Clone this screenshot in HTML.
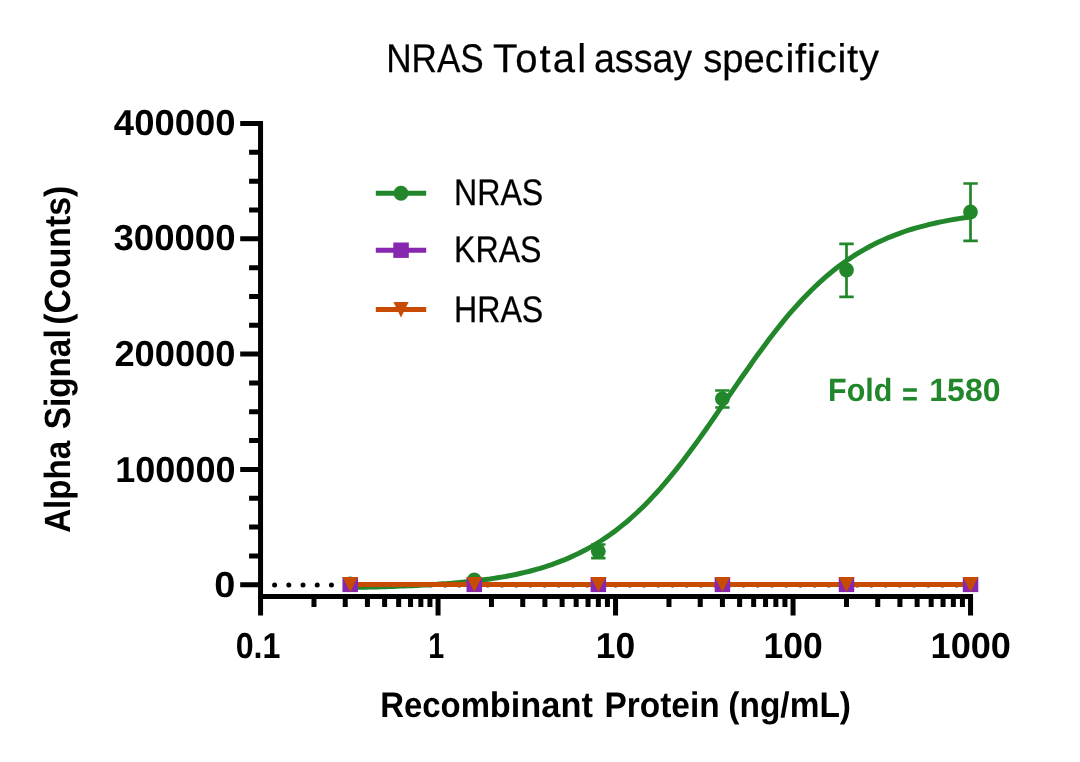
<!DOCTYPE html>
<html lang="en">
<head>
<meta charset="utf-8">
<title>NRAS Total assay specificity</title>
<style>
html,body{margin:0;padding:0;background:#fff;}
body{width:1080px;height:762px;overflow:hidden;}
svg{display:block;will-change:transform;}
text{font-family:"Liberation Sans",sans-serif;text-rendering:geometricPrecision;}
</style>
</head>
<body>
<svg width="1080" height="762" viewBox="0 0 1080 762" role="img" aria-label="NRAS Total assay specificity: Alpha Signal (Counts) versus Recombinant Protein (ng/mL) for NRAS, KRAS and HRAS">
<rect width="1080" height="762" fill="#fff"/>
<line x1="274.6" y1="584.95" x2="972" y2="584.95" stroke="#000" stroke-width="5.0" stroke-linecap="round" stroke-dasharray="0 14.21"/>
<!-- NRAS fitted curve, error bars and points -->
<polyline fill="none" stroke="#22872b" stroke-width="5.0" stroke-linejoin="round" stroke-linecap="butt" points="350.2,587.5 354.1,587.4 358.0,587.3 361.8,587.3 365.7,587.2 369.6,587.1 373.5,587.0 377.4,586.9 381.2,586.8 385.1,586.7 389.0,586.5 392.9,586.4 396.7,586.3 400.6,586.1 404.5,586.0 408.4,585.8 412.2,585.7 416.1,585.5 420.0,585.3 423.9,585.1 427.8,584.9 431.6,584.6 435.5,584.4 439.4,584.1 443.3,583.8 447.1,583.6 451.0,583.3 454.9,582.9 458.8,582.6 462.6,582.2 466.5,581.8 470.4,581.4 474.3,581.0 478.2,580.5 482.0,580.0 485.9,579.5 489.8,579.0 493.7,578.4 497.5,577.8 501.4,577.1 505.3,576.5 509.2,575.7 513.1,575.0 516.9,574.2 520.8,573.3 524.7,572.4 528.6,571.5 532.4,570.5 536.3,569.4 540.2,568.3 544.1,567.1 547.9,565.9 551.8,564.6 555.7,563.2 559.6,561.7 563.5,560.2 567.3,558.6 571.2,556.9 575.1,555.1 579.0,553.3 582.8,551.3 586.7,549.3 590.6,547.1 594.5,544.9 598.3,542.5 602.2,540.0 606.1,537.4 610.0,534.7 613.9,531.9 617.7,529.0 621.6,525.9 625.5,522.8 629.4,519.5 633.2,516.0 637.1,512.5 641.0,508.8 644.9,505.0 648.8,501.0 652.6,496.9 656.5,492.7 660.4,488.4 664.3,483.9 668.1,479.3 672.0,474.6 675.9,469.8 679.8,464.9 683.6,459.9 687.5,454.8 691.4,449.6 695.3,444.3 699.2,438.9 703.0,433.5 706.9,428.0 710.8,422.4 714.7,416.8 718.5,411.2 722.4,405.5 726.3,399.9 730.2,394.2 734.0,388.6 737.9,382.9 741.8,377.3 745.7,371.7 749.6,366.2 753.4,360.7 757.3,355.3 761.2,350.0 765.1,344.7 768.9,339.6 772.8,334.5 776.7,329.5 780.6,324.6 784.4,319.9 788.3,315.2 792.2,310.7 796.1,306.3 800.0,302.0 803.8,297.9 807.7,293.9 811.6,290.0 815.5,286.2 819.3,282.6 823.2,279.1 827.1,275.7 831.0,272.5 834.9,269.3 838.7,266.3 842.6,263.5 846.5,260.7 850.4,258.1 854.2,255.5 858.1,253.1 862.0,250.8 865.9,248.6 869.7,246.5 873.6,244.5 877.5,242.6 881.4,240.7 885.3,239.0 889.1,237.3 893.0,235.8 896.9,234.3 900.8,232.9 904.6,231.5 908.5,230.2 912.4,229.0 916.3,227.9 920.1,226.8 924.0,225.8 927.9,224.8 931.8,223.9 935.7,223.0 939.5,222.1 943.4,221.4 947.3,220.6 951.2,219.9 955.0,219.2 958.9,218.6 962.8,218.0 966.7,217.5 970.5,216.9"/>
<g stroke="#22872b" stroke-width="2.7" fill="none">
<path d="M598.3 544.5V558.2M591.1 544.5H605.5M591.1 558.2H605.5"/>
<path d="M722.4 390.5V407.5M715.2 390.5H729.6M715.2 407.5H729.6"/>
<path d="M846.5 243.8V296.8M839.3 243.8H853.7M839.3 296.8H853.7"/>
<path d="M970.5 183.5V240.8M963.3 183.5H977.8M963.3 240.8H977.8"/>
</g>
<g fill="#22872b">
<circle cx="350.2" cy="584.0" r="7.4"/><circle cx="474.3" cy="580.0" r="7.4"/><circle cx="598.3" cy="551.2" r="7.4"/><circle cx="722.4" cy="398.8" r="7.4"/><circle cx="846.5" cy="270.0" r="7.4"/><circle cx="970.5" cy="212.0" r="7.4"/>
</g>
<!-- KRAS (squares) and HRAS (triangles) series -->
<line x1="350.2" y1="584.55" x2="970.5" y2="584.55" stroke="#8726af" stroke-width="4.8"/>
<line x1="350.2" y1="584.55" x2="970.5" y2="584.55" stroke="#c84b02" stroke-width="4.9"/>
<g fill="#8726af">
<rect x="342.46" y="577.00" width="15.5" height="15.1"/><rect x="466.53" y="577.00" width="15.5" height="15.1"/><rect x="590.60" y="577.00" width="15.5" height="15.1"/><rect x="714.67" y="577.00" width="15.5" height="15.1"/><rect x="838.73" y="577.00" width="15.5" height="15.1"/><rect x="962.80" y="577.00" width="15.5" height="15.1"/>
</g>
<g fill="#c84b02">
<path d="M342.46 577.00H357.96L350.21 592.10Z"/><path d="M466.53 577.00H482.03L474.28 592.10Z"/><path d="M590.60 577.00H606.10L598.35 592.10Z"/><path d="M714.67 577.00H730.17L722.42 592.10Z"/><path d="M838.73 577.00H854.23L846.48 592.10Z"/><path d="M962.80 577.00H978.30L970.55 592.10Z"/>
</g>
<!-- axes and ticks -->
<g stroke="#000" stroke-width="5.0" fill="none" stroke-linecap="butt">
<line x1="260.55" y1="121.00" x2="260.55" y2="615.5"/>
<line x1="258.05" y1="596.5" x2="973.05" y2="596.5"/>
<path d="M240.2 584.70H260.55M240.2 469.40H260.55M240.2 354.10H260.55M240.2 238.80H260.55M240.2 123.50H260.55M249.1 555.88H260.55M249.1 527.05H260.55M249.1 498.23H260.55M249.1 440.58H260.55M249.1 411.75H260.55M249.1 382.93H260.55M249.1 325.28H260.55M249.1 296.45H260.55M249.1 267.63H260.55M249.1 209.98H260.55M249.1 181.15H260.55M249.1 152.33H260.55"/>
<path d="M438.05 596.5V615.5M615.55 596.5V615.5M793.05 596.5V615.5M970.55 596.5V615.5M313.98 596.5V606.9M345.24 596.5V606.9M367.42 596.5V606.9M384.62 596.5V606.9M398.67 596.5V606.9M410.55 596.5V606.9M420.85 596.5V606.9M429.93 596.5V606.9M491.48 596.5V606.9M522.74 596.5V606.9M544.92 596.5V606.9M562.12 596.5V606.9M576.17 596.5V606.9M588.05 596.5V606.9M598.35 596.5V606.9M607.43 596.5V606.9M668.98 596.5V606.9M700.24 596.5V606.9M722.42 596.5V606.9M739.62 596.5V606.9M753.67 596.5V606.9M765.55 596.5V606.9M775.85 596.5V606.9M784.93 596.5V606.9M846.48 596.5V606.9M877.74 596.5V606.9M899.92 596.5V606.9M917.12 596.5V606.9M931.17 596.5V606.9M943.05 596.5V606.9M953.35 596.5V606.9M962.43 596.5V606.9"/>
</g>
<!-- legend -->
<line x1="375.8" y1="193.3" x2="426.2" y2="193.3" stroke="#22872b" stroke-width="5.0"/><circle cx="401.0" cy="193.3" r="7.5" fill="#22872b"/>
<line x1="375.8" y1="250.2" x2="426.2" y2="250.2" stroke="#8726af" stroke-width="5.0"/><rect x="393.3" y="242.5" width="15.5" height="15.4" fill="#8726af"/>
<line x1="375.8" y1="309.6" x2="426.2" y2="309.6" stroke="#c84b02" stroke-width="5.0"/><path d="M393.4 301.9H408.6L401.0 317.6Z" fill="#c84b02"/>
<!-- text: title, tick labels, axis labels, legend labels, annotation -->
<text y="72.30" font-size="40.0" font-weight="normal" fill="#000" stroke="#000" stroke-width="0.25"><tspan x="386.17" y="72.30" textLength="97.60" lengthAdjust="spacingAndGlyphs">NRAS</tspan> <tspan x="493.10" y="72.30" textLength="92.92" lengthAdjust="spacing">Total</tspan> <tspan x="593.95" y="72.30" textLength="98.19" lengthAdjust="spacingAndGlyphs">assay</tspan> <tspan x="703.19" y="72.30" textLength="80.62" lengthAdjust="spacingAndGlyphs">spec</tspan><tspan x="785.46" y="72.30" textLength="93.49" lengthAdjust="spacing">ificity</tspan></text>
<text y="135.30" font-size="36.0" font-weight="bold" fill="#000"><tspan x="113.89" textLength="121.59" lengthAdjust="spacingAndGlyphs">400000</tspan></text>
<text y="250.40" font-size="36.0" font-weight="bold" fill="#000"><tspan x="113.47" textLength="122.01" lengthAdjust="spacingAndGlyphs">300000</tspan></text>
<text y="366.30" font-size="36.0" font-weight="bold" fill="#000"><tspan x="114.41" textLength="121.07" lengthAdjust="spacingAndGlyphs">200000</tspan></text>
<text y="481.90" font-size="36.0" font-weight="bold" fill="#000"><tspan x="115.30" textLength="120.16" lengthAdjust="spacingAndGlyphs">100000</tspan></text>
<text y="597.20" font-size="36.0" font-weight="bold" fill="#000"><tspan x="214.34" textLength="21.09" lengthAdjust="spacingAndGlyphs">0</tspan></text>
<text y="658.20" font-size="36.0" font-weight="bold" fill="#000"><tspan x="235.76" textLength="44.67" lengthAdjust="spacingAndGlyphs">0.1</tspan></text>
<text y="658.20" font-size="36.0" font-weight="bold" fill="#000"><tspan x="428.14" textLength="15.98" lengthAdjust="spacingAndGlyphs">1</tspan></text>
<text y="658.20" font-size="36.0" font-weight="bold" fill="#000"><tspan x="595.84" textLength="39.36" lengthAdjust="spacingAndGlyphs">10</tspan></text>
<text y="658.20" font-size="36.0" font-weight="bold" fill="#000"><tspan x="763.58" textLength="59.14" lengthAdjust="spacingAndGlyphs">100</tspan></text>
<text y="658.20" font-size="36.0" font-weight="bold" fill="#000"><tspan x="930.59" textLength="80.33" lengthAdjust="spacingAndGlyphs">1000</tspan></text>
<text y="716.60" font-size="35.6" font-weight="bold" fill="#000"><tspan x="380.15" y="716.60" textLength="109.76" lengthAdjust="spacingAndGlyphs">Recom</tspan><tspan x="489.87" y="716.60" textLength="102.95" lengthAdjust="spacingAndGlyphs">binant</tspan> <tspan x="604.42" y="716.60" textLength="115.20" lengthAdjust="spacingAndGlyphs">Protein</tspan> <tspan x="728.34" y="716.60" textLength="122.68" lengthAdjust="spacingAndGlyphs">(ng/mL)</tspan></text>
<text transform="translate(69.80 0) rotate(-90)" y="0" font-size="36.5" font-weight="bold" fill="#000"><tspan x="-532.81" textLength="91.95" lengthAdjust="spacingAndGlyphs">Alpha</tspan> <tspan x="-429.30" textLength="99.95" lengthAdjust="spacingAndGlyphs">Signal</tspan> <tspan x="-324.68" textLength="139.07" lengthAdjust="spacingAndGlyphs">(Counts)</tspan></text>
<text y="205.10" font-size="37.0" font-weight="normal" fill="#000" stroke="#000" stroke-width="0.25"><tspan x="453.99" textLength="89.28" lengthAdjust="spacingAndGlyphs">NRAS</tspan></text>
<text y="262.35" font-size="37.0" font-weight="normal" fill="#000" stroke="#000" stroke-width="0.25"><tspan x="453.99" textLength="87.54" lengthAdjust="spacingAndGlyphs">KRAS</tspan></text>
<text y="321.60" font-size="37.0" font-weight="normal" fill="#000" stroke="#000" stroke-width="0.25"><tspan x="453.99" textLength="89.28" lengthAdjust="spacingAndGlyphs">HRAS</tspan></text>
<text y="401.10" font-size="32.2" font-weight="bold" fill="#22872b"><tspan x="828.12" y="401.10" textLength="64.38" lengthAdjust="spacingAndGlyphs">Fold</tspan> <tspan x="902.12" y="404.50" textLength="15.97" lengthAdjust="spacingAndGlyphs">=</tspan> <tspan x="929.26" y="401.10" textLength="71.27" lengthAdjust="spacingAndGlyphs">1580</tspan></text>
</svg>
</body>
</html>
